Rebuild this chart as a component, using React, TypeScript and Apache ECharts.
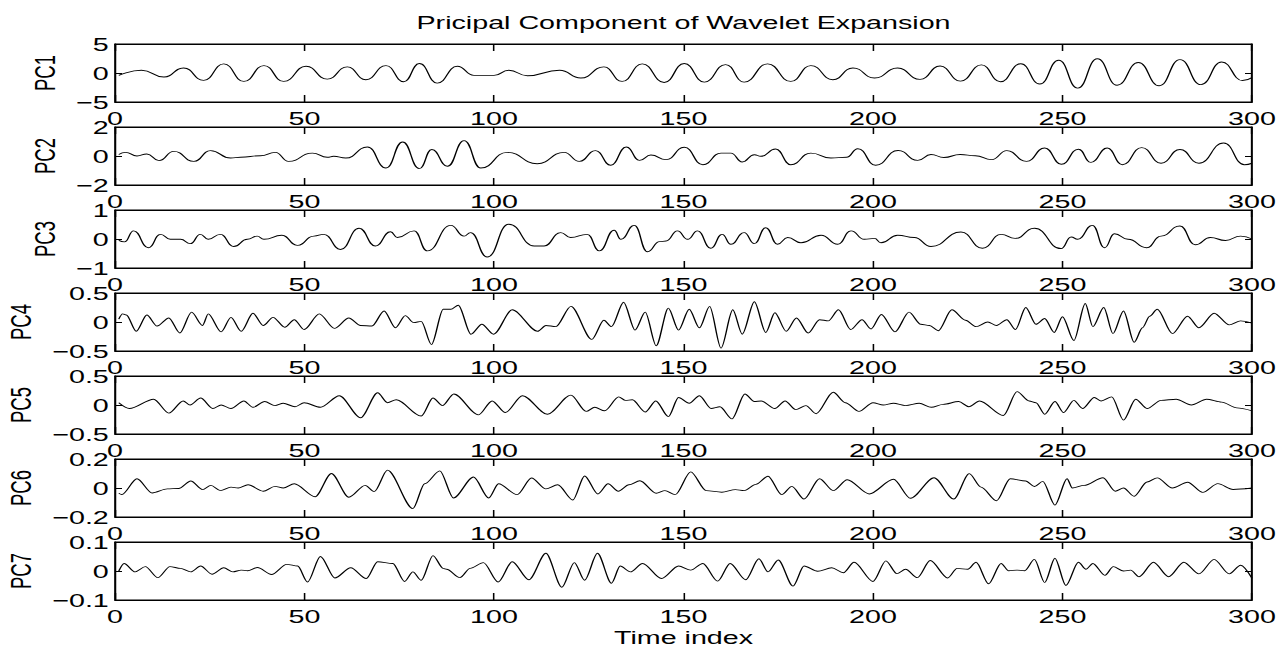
import React, { useEffect, useRef } from "react";
import * as echarts from "echarts";

const seriesNames = ["PC1", "PC2", "PC3", "PC4", "PC5", "PC6", "PC7"];
const yLimits = [5, 2, 1, 0.5, 0.5, 0.2, 0.1];
const xTicks = [0, 50, 100, 150, 200, 250, 300];
const titleText = "Pricipal Component of Wavelet Expansion";
const xLabelText = "Time index";

const pc1: number[][] = [[1,-0.4],[7,0.47],[12.9,-0.7],[18.1,0.87],[23.4,-1.28],[28.7,1.57],[34,-1.45],[39.3,1.28],[44.5,-1.45],[50.4,1.16],[56,-1.05],[61.3,1.05],[66.2,-1.16],[71.5,1.28],[76.2,-1.51],[80.3,1.63],[85,-1.74],[90.3,1.16],[94.7,-0.41],[100,-0.41],[103.9,0.47],[108.8,-0.47],[117.3,0.47],[122.9,-0.87],[129,1.05],[133.8,-1.45],[139.1,1.57],[144.9,-1.63],[150.2,1.63],[155.5,-1.57],[161.1,1.45],[166,-1.57],[172.2,1.57],[178.3,-1.45],[183.6,1.28],[189.4,-1.16],[194.7,0.87],[200.4,-0.87],[206.5,0.85],[212.4,-1.1],[217.7,1.2],[223.1,-1.4],[228.6,1.4],[233.6,-1.5],[239,1.6],[244,-1.9],[249,2.2],[254,-2.6],[259.2,2.45],[264.4,-2.1],[270,1.8],[275.5,-2.2],[281,2.3],[286.5,-2.0],[292,1.9],[297.5,-1.3],[300,-0.8]];

const pc2: number[][] = [[1,0.1],[2.8,0.25],[5.8,0],[8.4,0.14],[11.6,-0.32],[15.5,0.32],[20.8,-0.37],[25.2,0.37],[30.5,-0.14],[33.1,-0.09],[38.4,0.02],[42.3,0.25],[45.8,-0.37],[52.1,0.2],[56,-0.09],[57.7,-0.02],[60.9,-0.14],[66.6,0.62],[71.5,-0.83],[75.9,0.97],[80.3,-0.87],[83.6,0.45],[87.7,-0.71],[92.1,1.06],[96.5,-0.83],[103.5,0.25],[111.4,-0.53],[118.5,0.25],[122.5,-0.37],[126.8,0.37],[130.8,-0.64],[134.9,0.62],[138.4,-0.3],[141.4,0.07],[145.4,-0.25],[150.2,0.6],[155.1,-0.6],[159.9,0.2],[162.5,0.2],[165.5,-0.41],[168.7,0.09],[170.4,-0.02],[174.3,0.48],[178.3,-0.6],[183.6,0.2],[188.9,-0.14],[193,-0.09],[196,0.5],[200.7,-0.64],[206.6,0.38],[211.8,-0.3],[215.3,0.1],[218.7,-0.1],[223,0.1],[227,0.02],[231.3,-0.25],[235.3,0.37],[240.5,-0.37],[245.3,0.55],[249.7,-0.57],[254.2,0.47],[257.5,-0.44],[261.8,0.55],[265.8,-0.6],[270.9,0.58],[276,-0.5],[281,0.45],[286,-0.5],[292.5,0.9],[298,-0.6],[300,-0.5]];

const pc3: number[][] = [[1,-0.05],[2.5,-0.1],[4.9,0.28],[8.8,-0.3],[12,0.16],[14.6,-0.01],[17.3,-0.01],[19.9,-0.16],[22.5,0.16],[24.6,-0.01],[27.8,0.16],[31.3,-0.26],[34.9,-0.01],[37.5,0.1],[39.3,-0.01],[44,0.13],[48.1,-0.22],[52.5,0.1],[55.1,0.16],[59.5,-0.36],[64.4,0.37],[68.7,-0.24],[72.7,0.25],[74.5,0.05],[78.9,0.28],[82.4,-0.41],[88.6,0.47],[92.1,0.1],[93.8,0.22],[98.2,-0.62],[103.9,0.51],[110.6,-0.24],[113.2,-0.24],[117.6,0.22],[120.2,0.05],[124.6,0.16],[127.8,-0.41],[131.7,0.3],[133.5,-0.01],[137,0.47],[140.5,-0.44],[143.7,-0.09],[145.4,-0.07],[148.4,0.28],[151.1,-0.01],[153.7,0.28],[157.2,-0.32],[160.2,0.16],[162.5,-0.18],[166,0.22],[168.7,-0.16],[171.7,0.39],[174.8,-0.18],[177.5,0.05],[181,-0.13],[186.3,0.13],[190.7,-0.18],[194.2,0.28],[197.7,-0.01],[200.4,0.02],[202.1,-0.13],[206.5,0.13],[210.9,0.05],[215.3,-0.26],[223.2,0.24],[228.9,-0.32],[233.8,0.16],[237.5,0.02],[242.6,0.37],[249.6,-0.33],[252.3,0.07],[254,-0.01],[257.9,0.47],[261.1,-0.3],[263.7,0.18],[267.3,-0.01],[272.2,-0.3],[276,0.1],[281,0.45],[285,-0.2],[289,0.05],[293,-0.05],[297,0.1],[300,0]];

const pc4: number[][] = [[1,0.05],[2,0.14],[3,0.12],[5.6,-0.16],[8.4,0.12],[11.1,-0.07],[14.2,0.07],[17.1,-0.19],[20.2,0.17],[23.1,-0.06],[24.6,0.14],[28,-0.17],[30.6,0.08],[33.3,-0.16],[36.4,0.15],[39.1,-0.06],[41.7,0.08],[44.8,-0.09],[47.3,0.04],[49.9,-0.13],[53.9,0.14],[57.9,-0.11],[61.7,0.07],[64.8,-0.06],[67.8,-0.07],[71,0.19],[74,-0.1],[76.6,0.11],[78.8,-0.01],[80.8,0.01],[83.5,-0.39],[86.6,0.22],[88.6,0.22],[90.6,0.29],[93.9,-0.21],[96.8,-0.04],[99.9,-0.21],[104.8,0.21],[111.5,-0.16],[113.7,-0.06],[116.3,-0.08],[120.3,0.27],[125.8,-0.3],[129,0.03],[131,-0.08],[134.2,0.34],[137.2,-0.14],[139.9,0.17],[142.8,-0.41],[146,0.24],[148.7,-0.14],[151.5,0.22],[154.2,-0.1],[156.9,0.27],[159.9,-0.45],[163,0.21],[165.5,-0.21],[168.7,0.35],[171.7,-0.18],[174.1,0.16],[177.1,-0.16],[179.8,0.07],[182.9,-0.19],[185.9,0.04],[188.2,0.02],[190.9,0.21],[194.1,-0.13],[197.1,0.04],[199.5,-0.12],[202.2,0.13],[205.8,-0.17],[209.5,0.17],[212.6,-0.04],[214.9,-0.06],[217.2,-0.15],[220.8,0.21],[224.4,0.03],[227.2,-0.08],[230.3,0],[232.6,-0.06],[235.3,0.04],[237.6,-0.13],[240.3,0.25],[243,-0.04],[245.3,0.06],[247.8,-0.18],[250,0.09],[253,-0.32],[256,0.32],[258,-0.08],[260.9,0.25],[263.3,-0.2],[266.1,0.19],[268.9,-0.35],[271.1,-0.1],[273,0.1],[275,0.22],[279,-0.2],[283,0.1],[286,-0.1],[290,0.15],[294,-0.05],[297,0.02],[300,-0.02]];

const pc5: number[][] = [[1,0.04],[3.8,-0.06],[10.2,0.1],[14.2,-0.14],[18,0.07],[19.8,0],[22.6,0.12],[25.8,-0.06],[28,0],[30.6,-0.06],[34,0.07],[36.4,-0.04],[39.5,0.06],[42.2,-0.01],[44.4,0.03],[47.5,-0.03],[49.9,0.04],[54.2,-0.04],[59.2,0.16],[64.8,-0.22],[69.3,0.21],[71.9,0.04],[74.2,0.09],[80.8,-0.19],[83.9,0.12],[86.4,-0.01],[89.4,0.19],[95.9,-0.17],[99.5,0.07],[103,-0.13],[107.5,0.16],[114.1,-0.16],[120.3,0.17],[124.3,-0.11],[126.6,-0.04],[129.2,-0.1],[132.9,0.14],[134.7,0.08],[136.5,0.09],[139.9,-0.12],[142.7,0.07],[146,-0.2],[148.7,0.13],[151.5,0.03],[154.2,0.16],[157.3,-0.06],[159.6,-0.03],[162.8,-0.24],[166.2,0.19],[168.7,0.06],[170.5,0.07],[174.1,-0.06],[176.8,0.07],[179.6,-0.08],[182.3,-0.01],[185,-0.15],[189.5,0.22],[192.7,0.04],[196.3,-0.11],[200,0.04],[202.7,0],[205.4,0.03],[208.6,-0.01],[212.2,0.03],[215.4,-0.04],[218.5,0.01],[222.6,0.06],[225.3,-0.03],[228.1,0.07],[234.4,-0.18],[238,0.23],[241.2,0.07],[243,0.04],[245.3,-0.16],[248,0.06],[250.3,-0.13],[253,0.08],[255.3,-0.06],[258.4,0.13],[260.2,0.07],[263,0.14],[266.1,-0.26],[269.3,0.1],[272.3,-0.06],[276,0.08],[280,0.1],[284,0],[288,0.1],[292,0.05],[296,-0.05],[300,-0.1]];

const pc6: number[][] = [[1,-0.036],[1.8,-0.045],[5.8,0.064],[9.8,-0.034],[13.8,-0.006],[16.8,-0.003],[20,0.048],[23.1,-0.011],[25.3,0.018],[27.8,-0.018],[30.6,0.006],[32.5,0],[35.1,0.022],[39.1,-0.022],[42.2,0.011],[44.4,0],[47.3,0.029],[52.8,-0.06],[57.1,0.1],[61.7,-0.064],[66,0.018],[68.4,-0.025],[71.9,0.123],[78.6,-0.142],[81.7,0.029],[85.7,0.118],[89.3,-0.069],[94.6,0.076],[98.6,-0.069],[101.2,0.029],[106.1,-0.046],[109.9,0.069],[113.7,-0.006],[116.8,0.022],[120.8,-0.083],[123.9,0.083],[127.4,-0.041],[130.1,0.029],[132.8,-0.022],[135.6,0.022],[138.5,0.05],[142.8,-0.036],[145.1,-0.018],[147.8,-0.046],[151.9,0.111],[156,-0.018],[160.1,-0.029],[163.7,-0.011],[166,-0.018],[169.1,0.025],[172.3,0.081],[175.9,-0.046],[178.6,0.011],[181.8,-0.076],[185.9,0.064],[189.5,-0.018],[193.2,0.057],[199,-0.041],[205.4,0.06],[209.9,-0.071],[216.1,0.071],[221.3,-0.076],[225.4,0.099],[228.5,0.006],[232.6,-0.088],[236.2,0.064],[240.3,0.048],[242.6,0.01],[244.8,0.046],[248,-0.118],[251.2,0.064],[252.6,0],[255.7,0.018],[260.7,0.071],[263.9,-0.022],[266.1,0],[268.9,-0.057],[272.3,0.041],[275,0.07],[279,0],[283,0.04],[287,-0.03],[291,0.03],[295,-0.01],[300,0]];

const pc7: number[][] = [[1,0],[2.4,0.026],[5.3,-0.003],[8,0.015],[11.3,-0.023],[14.5,0.015],[17.3,0.009],[20,-0.003],[22.6,0.017],[25.6,-0.011],[28.7,0.011],[31.1,-0.003],[33.3,0.003],[35,0.001],[37.6,0.012],[41.3,-0.012],[45.3,0.023],[48.2,0.017],[50.8,-0.038],[54.2,0.05],[58,-0.024],[62.2,0.011],[66.3,-0.026],[69.3,0.032],[73.3,0.026],[76.4,-0.036],[78.6,-0.003],[80.8,-0.032],[83.9,0.053],[86.6,0.009],[87.5,0.006],[91,-0.023],[93.7,0.009],[97.2,0.029],[101.1,-0.038],[104.8,0.032],[109.2,-0.03],[113.7,0.061],[117.9,-0.056],[121.2,0.029],[123.9,-0.032],[127.3,0.061],[131,-0.042],[133.3,0.017],[136,-0.003],[139.2,0.026],[144.2,-0.026],[148.7,0.017],[151.9,0.003],[155.1,0.026],[159,-0.035],[162.3,0.026],[166.4,-0.03],[169.9,0.042],[172.3,-0.003],[175,0.038],[178.9,-0.052],[181.8,0.017],[185.4,-0.001],[189.1,0.011],[192.2,-0.006],[195,0.03],[200,-0.036],[203.4,0.035],[206.3,-0.009],[208.6,0.006],[211.7,-0.023],[215.1,0.036],[219.7,-0.024],[222.2,0.009],[225,0.006],[227.2,0.03],[230.5,-0.044],[233.8,0.026],[235.8,0.001],[238,0.003],[240,0.001],[242.6,0.04],[245.3,-0.04],[248,0.044],[250.9,-0.05],[254.2,0.03],[256.2,0.006],[258,0.026],[261.2,-0.015],[263.4,0.015],[266.1,0],[268,0.003],[270.2,-0.02],[274,0.03],[278,-0.02],[282,0.03],[286,-0.01],[290,0.04],[294,-0.01],[297,0.02],[300,-0.025]];

const allData = [pc1, pc2, pc3, pc4, pc5, pc6, pc7];

// layout (final picture px); the chart is drawn narrower and stretched horizontally
const K = 1.55;
const FULL_W = 1285;
const H = 648;
const W = FULL_W / K;
const PLOT_L = 115 / K;
const PLOT_R = 1252 / K;
const GRID_TOP0 = 44;
const GRID_STEP = 83;
const GRID_H = 58;
const FONT = "'Liberation Sans', Arial, Helvetica, sans-serif";
const FS = 18.5;

function fmtY(v: number): string {
  if (Math.abs(v) < 1e-9) return "0";
  const s = String(Math.round(Math.abs(v) * 1000) / 1000);
  return v < 0 ? "\u2212" + s : s;
}

export default function App() {
  const ref = useRef<HTMLDivElement>(null);
  useEffect(() => {
    if (!ref.current) return;
    const chart = echarts.init(ref.current, null, { renderer: "svg" });
    const grid: any[] = [];
    const xAxis: any[] = [];
    const yAxis: any[] = [];
    const series: any[] = [];
    const line = { show: true, onZero: false, lineStyle: { color: "#000", width: 1 } };
    seriesNames.forEach((name, i) => {
      grid.push({
        left: PLOT_L,
        width: PLOT_R - PLOT_L,
        top: GRID_TOP0 + GRID_STEP * i,
        height: GRID_H,
        show: true,
        borderColor: "#000",
        borderWidth: 1,
        backgroundColor: "#fff",
        containLabel: false,
        outerBoundsMode: "none",
      });
      const lim = yLimits[i];
      xAxis.push({
        type: "value",
        gridIndex: i,
        min: xTicks[0],
        max: xTicks[xTicks.length - 1],
        interval: 50,
        position: "bottom",
        axisLine: line,
        axisTick: { show: true, inside: true, length: 7, lineStyle: { color: "#000" } },
        axisLabel: { show: true, color: "#000", fontSize: FS, fontFamily: FONT, margin: 7, showMinLabel: true, showMaxLabel: true },
        splitLine: { show: false },
      });
      xAxis.push({
        type: "value",
        gridIndex: i,
        min: xTicks[0],
        max: xTicks[xTicks.length - 1],
        interval: 50,
        position: "top",
        axisLine: line,
        axisTick: { show: true, inside: true, length: 7, lineStyle: { color: "#000" } },
        axisLabel: { show: false },
        splitLine: { show: false },
      });
      yAxis.push({
        type: "value",
        gridIndex: i,
        min: -lim,
        max: lim,
        interval: lim,
        position: "left",
        name,
        nameLocation: "middle",
        nameGap: i < 3 ? 30 : 34,
        nameRotate: 90,
        nameTextStyle: { color: "#000", fontSize: FS, fontFamily: FONT },
        axisLine: line,
        axisTick: { show: true, inside: true, length: 4.5, lineStyle: { color: "#000" } },
        axisLabel: { show: true, color: "#000", fontSize: FS, fontFamily: FONT, margin: 4, formatter: fmtY, showMinLabel: true, showMaxLabel: true },
        splitLine: { show: false },
      });
      yAxis.push({
        type: "value",
        gridIndex: i,
        min: -lim,
        max: lim,
        interval: lim,
        position: "right",
        axisLine: line,
        axisTick: { show: true, inside: true, length: 4.5, lineStyle: { color: "#000" } },
        axisLabel: { show: false },
        splitLine: { show: false },
      });
      series.push({
        type: "line",
        name,
        xAxisIndex: 2 * i,
        yAxisIndex: 2 * i,
        data: allData[i],
        showSymbol: false,
        symbol: "none",
        smooth: i < 3 ? 0.5 : 0.3,
        smoothMonotone: "x",
        lineStyle: { color: "#000", width: 0.9 },
        z: 3,
      });
    });
    const cx = (PLOT_L + PLOT_R) / 2;
    chart.setOption({
      animation: false,
      backgroundColor: "#fff",
      grid,
      xAxis,
      yAxis,
      series,
      graphic: [
        {
          type: "text",
          x: cx,
          y: 22,
          style: { text: titleText, fill: "#000", font: `${FS}px ${FONT}`, textAlign: "center", textVerticalAlign: "middle" },
        },
        {
          type: "text",
          x: cx,
          y: 637,
          style: { text: xLabelText, fill: "#000", font: `${FS}px ${FONT}`, textAlign: "center", textVerticalAlign: "middle" },
        },
      ],
    });
    return () => chart.dispose();
  }, []);
  return (
    <div
      ref={ref}
      style={{
        position: "fixed",
        left: 0,
        top: 0,
        width: W,
        height: H,
        transform: `scaleX(${K})`,
        transformOrigin: "0 0",
        background: "#fff",
      }}
    />
  );
}
